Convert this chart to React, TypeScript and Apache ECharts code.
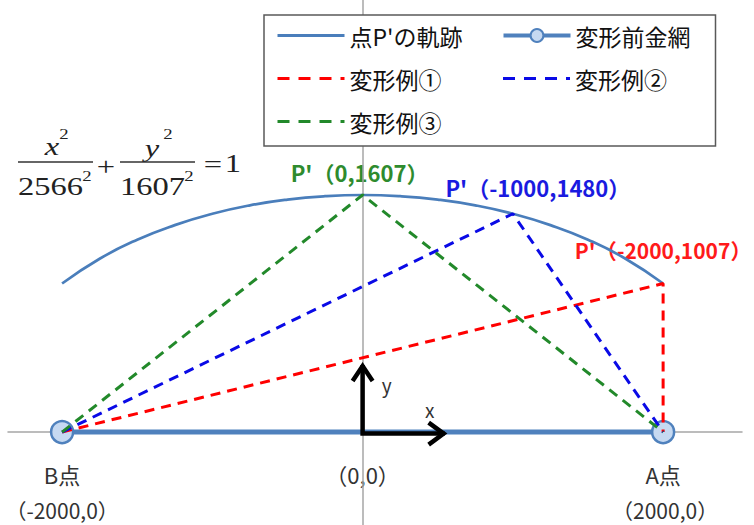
import React, { useEffect, useRef } from "react";
import * as echarts from "echarts";

// Ellipse (locus of P') sample points
const locusX = [-2000, -1750, -1500, -1250, -1000, -750, -500, -250, 0, 250, 500, 750, 1000, 1250, 1500, 1750, 2000];
const locusY = [1007, 1175, 1304, 1403, 1480, 1537, 1576, 1599, 1607, 1599, 1576, 1537, 1480, 1403, 1304, 1175, 1007];

// Net before deformation (B point to A point)
const netX = [-2000, 2000];
const netY = [0, 0];

// Deformation examples: B -> P' -> A
const ex1X = [-2000, 2000, 2000];
const ex1Y = [0, 1007, 0];
const ex2X = [-2000, 1000, 2000];
const ex2Y = [0, 1480, 0];
const ex3X = [-2000, 0, 2000];
const ex3Y = [0, 1607, 0];

const seriesNames = ["点P'の軌跡", "変形前金網", "変形例①", "変形例②", "変形例③"];
const peakLabels = ["P'（-2000,1007）", "P'（-1000,1480）", "P'（0,1607）"];
const pointLabels = ["B点", "（-2000,0）", "（0,0）", "A点", "（2000,0）"];

const zip = (a: number[], b: number[]) => a.map((v, i) => [v, b[i]]);

const CJK = "'Noto Sans CJK JP', 'Noto Sans', sans-serif";
const SERIF = "'Liberation Serif', 'DejaVu Serif', serif";

export default function App() {
  const ref = useRef<HTMLDivElement>(null);

  useEffect(() => {
    if (!ref.current) return;
    const chart = echarts.init(ref.current, null, { renderer: "svg" });

    const dashed = (name: string, xs: number[], ys: number[], color: string) => ({
      name,
      type: "line",
      data: zip(xs, ys),
      symbol: "none",
      showSymbol: false,
      lineStyle: { color, width: 3, type: [10, 7] },
      itemStyle: { color },
      emphasis: { disabled: true },
      z: 3,
    });

    const noDot = { opacity: 0 };

    chart.setOption({
      animation: false,
      grid: { left: 8, right: 12, top: 0, bottom: 0, containLabel: false },
      xAxis: {
        type: "value",
        min: -2360,
        max: 2525,
        axisLine: { onZero: true, lineStyle: { color: "#a6a6a6", width: 1.5 } },
        axisTick: { show: false },
        axisLabel: { show: false },
        splitLine: { show: false },
      },
      yAxis: {
        type: "value",
        min: -630,
        max: 2929,
        axisLine: { onZero: true, lineStyle: { color: "#a6a6a6", width: 1.5 } },
        axisTick: { show: false },
        axisLabel: { show: false },
        splitLine: { show: false },
      },
      legend: {
        data: [
          { name: seriesNames[0], itemStyle: noDot, lineStyle: { width: 3 } },
          { name: seriesNames[1], lineStyle: { width: 4 } },
          { name: seriesNames[2], itemStyle: noDot, lineStyle: { width: 3, type: [12, 9] } },
          { name: seriesNames[3], itemStyle: noDot, lineStyle: { width: 3, type: [12, 9] } },
          { name: seriesNames[4], itemStyle: noDot, lineStyle: { width: 3, type: [12, 9] } },
        ],
        left: 264,
        top: 15,
        width: 440,
        orient: "horizontal",
        itemWidth: 67,
        itemHeight: 16,
        itemGap: 12,
        padding: [5, 0, 9, 12],
        borderColor: "#595959",
        borderWidth: 1.5,
        backgroundColor: "#ffffff",
        selectedMode: false,
        textStyle: {
          fontFamily: CJK,
          fontSize: 23,
          color: "#111",
          width: 140,
          lineHeight: 31,
        },
      },
      series: [
        {
          name: seriesNames[0],
          type: "line",
          data: zip(locusX, locusY),
          smooth: true,
          symbol: "none",
          showSymbol: false,
          lineStyle: { color: "#4a7ebb", width: 2.7 },
          itemStyle: { color: "#4a7ebb" },
          emphasis: { disabled: true },
          z: 3,
        },
        {
          name: seriesNames[1],
          type: "line",
          data: zip(netX, netY),
          symbol: "circle",
          symbolSize: 22,
          lineStyle: { color: "#4f81bd", width: 5 },
          itemStyle: { color: "#c6d9f1", borderColor: "#4f81bd", borderWidth: 2.5 },
          emphasis: { disabled: true },
          z: 2,
        },
        dashed(seriesNames[2], ex1X, ex1Y, "#ff0000"),
        dashed(seriesNames[3], ex2X, ex2Y, "#0a0ae6"),
        dashed(seriesNames[4], ex3X, ex3Y, "#22892a"),
      ],
    });

    const px = (x: number, y: number) => chart.convertToPixel({ gridIndex: 0 }, [x, y]) as number[];

    const o = px(0, 0);
    const top = px(0, 455);
    const right = px(546, 0);
    const pRed = px(ex1X[1], ex1Y[1]);
    const pBlue = px(ex2X[1], ex2Y[1]);
    const pGreen = px(ex3X[1], ex3Y[1]);
    const pB = px(netX[0], netY[0]);
    const pA = px(netX[1], netY[1]);

    const label = (text: string, x: number, y: number, color: string, bold: boolean, size = 20) => ({
      type: "text",
      x,
      y,
      z: 0,
      style: {
        text,
        fill: color,
        font: `${bold ? "bold " : ""}${size}px ${CJK}`,
        align: "center",
        verticalAlign: "middle",
        textAlign: "center",
        textVerticalAlign: "middle",
      },
    });

    const ftext = (text: string, x: number, y: number, size: number, italic: boolean, align = "center") => ({
      type: "text",
      x,
      y,
      scaleX: 1.25,
      z: 50,
      style: {
        text,
        fill: "#222",
        font: `${italic ? "italic " : ""}${size}px ${SERIF}`,
        align,
        verticalAlign: "middle",
        textAlign: align,
        textVerticalAlign: "middle",
      },
    });

    const arrowStyle = { stroke: "#000", lineWidth: 4.5, fill: "none", lineJoin: "miter", lineCap: "butt" };

    chart.setOption({
      graphic: [
        // peak labels
        label(peakLabels[2], pGreen[0] - 3, pGreen[1] - 23, "#2e8b2e", true, 22),
        label(peakLabels[1], pBlue[0] + 25, pBlue[1] - 27, "#1a1ae0", true, 22),
        label(peakLabels[0], pRed[0], pRed[1] - 34, "#ff1a1a", true, 21),
        // point labels
        label(pointLabels[0], pB[0], pB[1] + 42, "#333", false, 22),
        label(pointLabels[1], pB[0], pB[1] + 78, "#333", false, 21),
        label(pointLabels[2], o[0], o[1] + 42, "#333", false, 22),
        label(pointLabels[3], pA[0], pA[1] + 42, "#333", false, 22),
        label(pointLabels[4], pA[0] + 2, pA[1] + 78, "#333", false, 21),
        // axis arrows
        {
          type: "polyline",
          z: 100,
          shape: { points: [[top[0], top[1]], [o[0], o[1] + 1.5], [right[0], right[1] + 1.5]] },
          style: arrowStyle,
        },
        {
          type: "polyline",
          z: 100,
          shape: { points: [[top[0] - 10, top[1] + 16], [top[0], top[1] + 1], [top[0] + 10, top[1] + 16]] },
          style: arrowStyle,
        },
        {
          type: "polyline",
          z: 100,
          shape: {
            points: [[right[0] - 16, right[1] - 9.5], [right[0] - 1, right[1] + 1.5], [right[0] - 16, right[1] + 12.5]],
          },
          style: arrowStyle,
        },
        label("y", top[0] + 24, top[1] + 20, "#333", false, 19),
        label("x", right[0] - 15, right[1] - 23, "#333", false, 19),
        // formula
        ftext("x", 52, 146, 26, true),
        ftext("2", 64, 134, 15, false),
        { type: "line", z: 50, shape: { x1: 18, y1: 162, x2: 93, y2: 162 }, style: { stroke: "#333", lineWidth: 1.3 } },
        ftext("2566", 18, 186, 26, false, "left"),
        ftext("2", 87, 176, 15, false),
        ftext("+", 106, 166, 26, false),
        ftext("y", 152, 148, 26, true),
        ftext("2", 168, 134, 15, false),
        { type: "line", z: 50, shape: { x1: 120, y1: 162, x2: 195, y2: 162 }, style: { stroke: "#333", lineWidth: 1.3 } },
        ftext("1607", 120, 186, 26, false, "left"),
        ftext("2", 189, 176, 15, false),
        ftext("=", 213, 164, 26, false),
        ftext("1", 233, 163, 26, false),
      ],
    });

    return () => chart.dispose();
  }, []);

  return (
    <div
      ref={ref}
      style={{ position: "absolute", left: 0, top: 0, width: 754, height: 525, background: "#fff" }}
    />
  );
}
